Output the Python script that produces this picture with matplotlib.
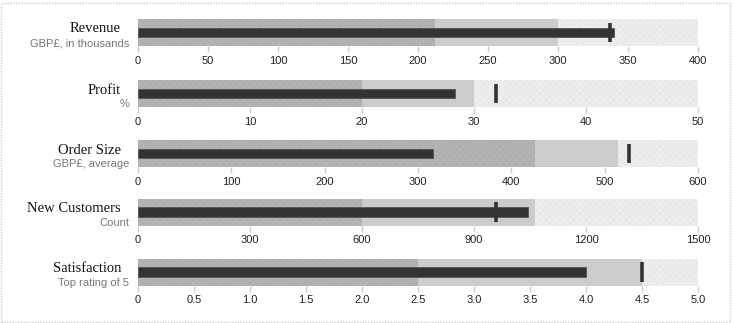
import matplotlib
matplotlib.use("Agg")
import matplotlib.pyplot as plt
from matplotlib.patches import Rectangle

titles = ["Revenue", "Profit", "Order Size", "New Customers", "Satisfaction"]
subtitles = ["GBP£, in thousands", "%", "GBP£, average", "Count", "Top rating of 5"]
ranges = [[212, 300, 400], [20, 30, 50], [425, 514, 600], [600, 1063, 1500], [2.5, 4.5, 5.0]]
measures = [340, 28.3, 316, 1044, 4.0]
markers = [337, 32, 526, 960, 4.5]
ticks = [
    [0, 50, 100, 150, 200, 250, 300, 350, 400],
    [0, 10, 20, 30, 40, 50],
    [0, 100, 200, 300, 400, 500, 600],
    [0, 300, 600, 900, 1200, 1500],
    [0, 0.5, 1.0, 1.5, 2.0, 2.5, 3.0, 3.5, 4.0, 4.5, 5.0],
]
tick_labels = [
    ["0", "50", "100", "150", "200", "250", "300", "350", "400"],
    ["0", "10", "20", "30", "40", "50"],
    ["0", "100", "200", "300", "400", "500", "600"],
    ["0", "300", "600", "900", "1200", "1500"],
    ["0", "0.5", "1.0", "1.5", "2.0", "2.5", "3.0", "3.5", "4.0", "4.5", "5.0"],
]

W, H = 734, 323
plt.rcParams["hatch.linewidth"] = 0.5
fig = plt.figure(figsize=(W / 100, H / 100), dpi=100)

# outer border
fig.patches.append(Rectangle((1 / W, 1 / H), (730 - 1) / W, (320 - 1) / H,
                             transform=fig.transFigure, fill=False,
                             edgecolor="#cccccc", linewidth=1.0, linestyle=(0, (1, 1))))

tops = [19, 80, 140, 198.5, 258.5]
bar_h = 27
x0, x1 = 138, 698

range_styles = [
    dict(facecolor="#b4b4b4", hatch="xxxxx", edgecolor="#acacac"),
    dict(facecolor="#cccccc", hatch=None, edgecolor="#cccccc"),
    dict(facecolor="#eeeeee", hatch="xxxxx", edgecolor="#e6e6e6"),
]

for i in range(5):
    top = tops[i]
    ax = fig.add_axes([x0 / W, 1 - (top + bar_h) / H, (x1 - x0) / W, bar_h / H])
    vmax = ranges[i][-1]
    ax.set_xlim(0, vmax)
    ax.set_ylim(1, 0)
    for j in reversed(range(3)):
        st = range_styles[j]
        ax.barh(0.5, ranges[i][j], height=1.0, left=0, color=st["facecolor"],
                edgecolor=st["edgecolor"], hatch=st["hatch"], linewidth=0, zorder=1 + (2 - j))
    ax.barh(0.5, measures[i], height=0.34, left=0, color="#333333",
            edgecolor="#555555", linewidth=0.6, zorder=5)
    ax.plot([markers[i], markers[i]], [0.14, 0.87], color="#333333", linewidth=2.6,
            solid_capstyle="butt", zorder=6)
    for s in ax.spines.values():
        s.set_visible(False)
    ax.set_yticks([])
    ax.set_xticks(ticks[i])
    ax.set_xticklabels(tick_labels[i], fontsize=8, family="Liberation Sans", color="#222222")
    ax.tick_params(axis="x", length=4, width=1, color="#cccccc", pad=3)
    fig.text(121 / W, 1 - (top + 10) / H, titles[i], ha="right", va="center",
             fontsize=10.5, family="Liberation Serif", color="#111111")
    fig.text(129.5 / W, 1 - (top + 24) / H, subtitles[i], ha="right", va="center",
             fontsize=8, family="Liberation Sans", color="#777777")

fig.savefig("out.png", dpi=100)
